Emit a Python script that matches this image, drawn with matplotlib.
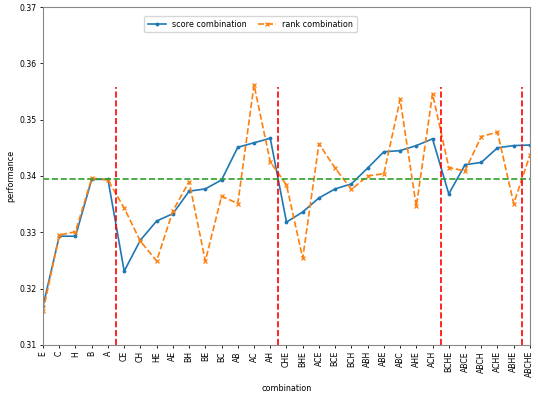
import numpy as np
import matplotlib
matplotlib.use("Agg")
import matplotlib.pyplot as plt

combos = ["E", "C", "H", "B", "A",
          "CE", "CH", "HE", "AE", "BH", "BE", "BC", "AB", "AC", "AH",
          "CHE", "BHE", "ACE", "BCE", "BCH", "ABH", "ABE", "ABC", "AHE", "ACH",
          "BCHE", "ABCE", "ABCH", "ACHE", "ABHE",
          "ABCHE"]
score = [0.3169, 0.3293, 0.3293, 0.3394, 0.3394,
         0.3231, 0.3286, 0.3320, 0.3333, 0.3373, 0.3377, 0.3393, 0.3451, 0.3459, 0.3467,
         0.3318, 0.3336, 0.3361, 0.3377, 0.3386, 0.3414, 0.3443, 0.3445, 0.3454, 0.3466,
         0.3368, 0.3420, 0.3424, 0.3450, 0.3454,
         0.3455]
rank = [0.3160, 0.3295, 0.3301, 0.3396, 0.3393,
        0.3343, 0.3284, 0.3249, 0.3338, 0.3390, 0.3249, 0.3364, 0.3351, 0.3562, 0.3425,
        0.3384, 0.3254, 0.3457, 0.3414, 0.3376, 0.3400, 0.3404, 0.3536, 0.3346, 0.3546,
        0.3415, 0.3409, 0.3470, 0.3478, 0.3351,
        0.3437]
# group sizes: singles, pairs, triples, quads, all five
groups = [5, 10, 10, 5, 1]

tick_fs = 5.6
lab_fs = 5.8
fig = plt.figure(figsize=(5.38, 3.95), dpi=100)
ax = fig.add_axes([0.08, 0.127, 0.905, 0.855])

x = np.arange(len(combos))
ax.plot(x, score, '.-', color='tab:blue', markersize=3.5, linewidth=1.2, label='score combination')
ax.plot(x, rank, 'x--', color='tab:orange', markersize=3.5, markeredgewidth=0.9,
        linewidth=1.2, label='rank combination')

# best single feature baseline
ax.axhline(max(score[:5]), color='tab:green', linestyle='--', linewidth=1.2)

# separators between group sizes
bounds = np.cumsum(groups)[:-1] - 0.5
for b in bounds:
    ax.vlines(b, 0.31, 0.3558, colors='red', linestyles='--', linewidth=1.2)

ax.set_xlim(0, len(combos) - 1)
ax.set_ylim(0.31, 0.37)
ax.set_xticks(x)
ax.set_xticklabels(combos, rotation=90, fontsize=tick_fs)
ax.set_yticks([0.31, 0.32, 0.33, 0.34, 0.35, 0.36, 0.37])
ax.tick_params(axis='y', labelsize=tick_fs)
ax.tick_params(length=2.5, width=0.6, pad=2)
for s in ax.spines.values():
    s.set_color('#888888')
ax.set_xlabel('combination', fontsize=lab_fs, labelpad=5)
ax.set_ylabel('performance', fontsize=lab_fs, labelpad=3)
ax.legend(ncol=2, fontsize=lab_fs, loc='upper left', bbox_to_anchor=(0.2, 0.985),
          handlelength=2.2, borderpad=0.45, columnspacing=1.4)

fig.savefig('out.png', dpi=100)
